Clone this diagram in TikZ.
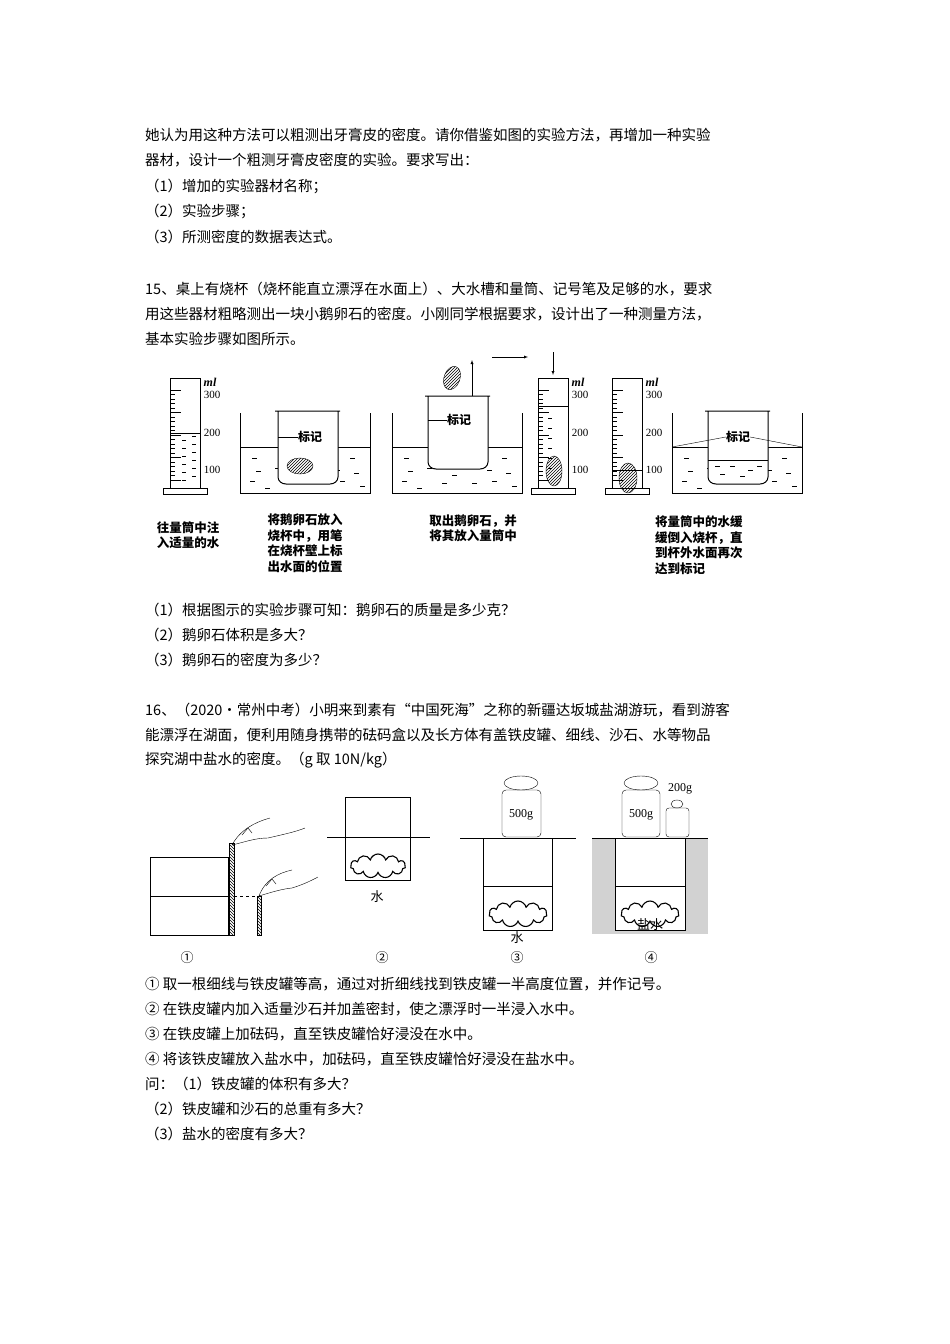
\documentclass[tikz,border=0pt]{standalone}
\usepackage{fontspec}
\setmainfont{Liberation Serif}
\newfontfamily\cjk{Noto Sans CJK SC}
\usetikzlibrary{shapes.symbols,shapes.geometric,patterns}
\tikzset{
  txt/.style={anchor=west,inner sep=0pt,font=\cjk\fontsize{14.5}{16}\selectfont},
  capt/.style={align=left,inner sep=0pt,font=\cjk\bfseries\fontsize{12.5}{15.5}\selectfont},
  scl/.style={inner sep=0pt,font=\fontsize{11}{11}\selectfont},
  stone/.style={draw,ellipse,minimum width=24,minimum height=16,inner sep=0pt,pattern=north east lines},
  rock/.style={draw,cloud,cloud puffs=11,minimum width=58,minimum height=26,inner sep=0pt,line width=1.1pt},
  lbl/.style={inner sep=0pt,font=\cjk\fontsize{13}{13}\selectfont}
}
% graduated cylinder, (#1,#2) top left of tube, #3 water level
\newcommand\tube[3]{
  \begin{scope}[shift={(#1,#2)}]
    \draw[line width=1pt] (0,0) -- (0,110) (30,0) -- (30,110);
    \draw (0,0) -- (30,0);
    \draw[fill=white,line width=1pt] (-7,110) rectangle (37,116);
    \foreach \k in {0,...,20} {\draw (0,12+\k*4.5) -- (5,12+\k*4.5);}
    \foreach \k in {0,...,4} {\draw (0,12+\k*22.5) -- (11,12+\k*22.5);}
    \draw (0,#3) -- (30,#3);
    \node[scl,font=\bfseries\itshape\fontsize{12}{12}\selectfont] at (40,4) {ml};
    \node[scl] at (42,17) {300};
    \node[scl] at (42,55) {200};
    \node[scl] at (42,92) {100};
  \end{scope}}
% water tank with dashes
\newcommand\tank[3]{
  \begin{scope}[shift={(#1,#2)}]
    \draw[line width=1pt] (0,0) -- (0,80) -- (130,80) -- (130,0);
    \draw (0,#3) -- (130,#3);
    \foreach \px/\py in {12/45,90/45,110/45,16/58,35/55,95/57,114/60,10/68,50/70,80/70,100/68,25/75,60/62,120/73}
      {\draw (\px,\py) -- (\px+5,\py);}
  \end{scope}}
% beaker, (#1,#2) top left
\newcommand\beaker[2]{
  \begin{scope}[shift={(#1,#2)}]
    \draw[line width=1pt,fill=white] (-3,0) -- (62,0) (0,0) -- (0,66) to[out=-90,in=180] (8,73) -- (52,73) to[out=0,in=-90] (60,66) -- (60,0);
  \end{scope}}
\begin{document}
\begin{tikzpicture}[x=1pt,y=-1pt]
\useasboundingbox (0,0) rectangle (950,1344);
% text above
\node[txt] (t1) at (145,135) {她认为用这种方法可以粗测出牙膏皮的密度。请你借鉴如图的实验方法，再增加一种实验};
\node[txt] (t2) at (145,160) {器材，设计一个粗测牙膏皮密度的实验。要求写出：};
\node[txt] (t3) at (145,186) {（1）增加的实验器材名称；};
\node[txt] (t4) at (145,211) {（2）实验步骤；};
\node[txt] (t5) at (145,237) {（3）所测密度的数据表达式。};
\node[txt] (t6) at (145,289) {15、桌上有烧杯（烧杯能直立漂浮在水面上）、大水槽和量筒、记号笔及足够的水，要求};
\node[txt] (t7) at (145,314) {用这些器材粗略测出一块小鹅卵石的密度。小刚同学根据要求，设计出了一种测量方法，};
\node[txt] (t8) at (145,339) {基本实验步骤如图所示。};
% figure 15
\tube{170}{378}{55}
\foreach \py in {62,70,78,86,94,102} {\draw (182,378+\py) -- (186,378+\py) (192,374+\py) -- (196,374+\py);}
\tank{240}{413}{34}
\beaker{278}{411}
\node[inner sep=0pt,fill=white,font=\cjk\bfseries\fontsize{12}{12}\selectfont] (m1) at (310,437) {标记};
\draw (278,437) -- (m1.west);
\node[stone,minimum width=26] (s1) at (300,466) {};
\tank{392}{413}{34}
\beaker{428}{396}
\node[inner sep=0pt,fill=white,font=\cjk\bfseries\fontsize{12}{12}\selectfont] (m2) at (459,420) {标记};
\draw (428,420) -- (m2.west);
\node[stone,rotate=70] (s2) at (452,378) {};
\draw[-latex] (472,396) -- (472,360);
\draw[-latex] (492,357) -- (528,357);
\draw[-latex] (553,352) -- (553,375);
\tube{538}{378}{28}
\foreach \py in {40,50,60,70,80,90} {\draw (548,378+\py) -- (552,378+\py);}
\node[stone,minimum width=16,minimum height=30] (s3) at (554,471) {};
\tube{612}{378}{92}
\node[stone,minimum width=18,minimum height=30] (s4) at (628,478) {};
\tank{672}{413}{34}
\beaker{708}{411}
\draw (708,460) -- (768,460);
\foreach \px/\py in {715/466,730/466,748/470,720/474,740/476,757/466} {\draw (\px,\py) -- (\px+5,\py);}
\node[inner sep=0pt,fill=white,font=\cjk\bfseries\fontsize{12}{12}\selectfont] (m4) at (738,437) {标记};
\draw (672,447) -- (m4.west) (m4.east) -- (802,447);
\node[capt] (c1) at (188,535) {往量筒中注\\入适量的水};
\node[capt] (c2) at (305,543) {将鹅卵石放入\\烧杯中，用笔\\在烧杯壁上标\\出水面的位置};
\node[capt] (c3) at (473,528) {取出鹅卵石，并\\将其放入量筒中};
\node[capt,anchor=west] (c4) at (655,545) {将量筒中的水缓\\缓倒入烧杯，直\\到杯外水面再次\\达到标记};
% questions 15
\node[txt] (t9) at (145,610) {（1）根据图示的实验步骤可知：鹅卵石的质量是多少克？};
\node[txt] (t10) at (145,635) {（2）鹅卵石体积是多大？};
\node[txt] (t11) at (145,660) {（3）鹅卵石的密度为多少？};
\node[txt] (t12) at (145,710) {16、（2020•常州中考）小明来到素有“中国死海”之称的新疆达坂城盐湖游玩，看到游客};
\node[txt] (t13) at (145,735) {能漂浮在湖面，便利用随身携带的砝码盒以及长方体有盖铁皮罐、细线、沙石、水等物品};
\node[txt] (t14) at (145,760) {探究湖中盐水的密度。（g 取 10N/kg）};
% figure 16 panel 1
\draw (150,857) rectangle (228,935) (150,896) -- (228,896);
\draw[pattern=north west lines] (229,843) rectangle (234,935);
\draw[pattern=north west lines] (257,896) rectangle (261,935);
\draw[dashed] (234,896) -- (257,896);
\draw (270,818) .. controls (255,822) and (240,830) .. (232,845)
      (232,845) .. controls (245,842) and (255,838) .. (268,838)
      (268,838) .. controls (285,834) and (295,832) .. (305,828);
\draw (242,835) -- (248,828) -- (252,833);
\draw (292,870) .. controls (278,873) and (265,880) .. (259,896)
      (259,896) .. controls (272,892) and (282,889) .. (292,888)
      (292,888) .. controls (305,884) and (312,880) .. (318,877);
\draw (266,886) -- (272,879) -- (276,884);
\node[lbl] (n1) at (187,958) {①};
% panel 2
\draw (345,797) rectangle (410,880);
\draw (327,837) -- (430,837);
\node[rock,minimum width=55,minimum height=24] (r2) at (378,866) {};
\node[lbl] (w2) at (377,897) {水};
\node[lbl] (n2) at (382,958) {②};
% panel 3
\draw (460,838) -- (576,838);
\draw (483,838) rectangle (552,930) (483,886) -- (552,886);
\draw[rounded corners=4] (502,837) rectangle (541,790);
\draw (521,783) ellipse (17 and 7);
\node[inner sep=0pt,font=\fontsize{12}{12}\selectfont] (w500a) at (521,815) {500g};
\node[rock] (r3) at (518,914) {};
\node[lbl] (w3) at (517,938) {水};
\node[lbl] (n3) at (517,958) {③};
% panel 4
\fill[gray!35] (592,838) rectangle (708,934);
\draw[fill=white] (615,838) rectangle (685,930);
\draw (615,886) -- (685,886);
\draw (592,838) -- (708,838);
\draw[rounded corners=4] (622,837) rectangle (660,790);
\draw (641,783) ellipse (17 and 7);
\node[inner sep=0pt,font=\fontsize{12}{12}\selectfont] (w500b) at (641,815) {500g};
\draw[rounded corners=3] (666,837) rectangle (689,808);
\draw (677,804) ellipse (6 and 4);
\node[inner sep=0pt,font=\fontsize{12}{12}\selectfont] (w200) at (680,789) {200g};
\node[rock] (r4) at (650,914) {};
\node[lbl] (w4) at (650,925) {盐水};
\node[lbl] (n4) at (651,958) {④};
% steps 16
\node[txt] (t15) at (145,984) {① 取一根细线与铁皮罐等高，通过对折细线找到铁皮罐一半高度位置，并作记号。};
\node[txt] (t16) at (145,1009) {② 在铁皮罐内加入适量沙石并加盖密封，使之漂浮时一半浸入水中。};
\node[txt] (t17) at (145,1034) {③ 在铁皮罐上加砝码，直至铁皮罐恰好浸没在水中。};
\node[txt] (t18) at (145,1059) {④ 将该铁皮罐放入盐水中，加砝码，直至铁皮罐恰好浸没在盐水中。};
\node[txt] (t19) at (145,1084) {问：（1）铁皮罐的体积有多大？};
\node[txt] (t20) at (145,1109) {（2）铁皮罐和沙石的总重有多大？};
\node[txt] (t21) at (145,1134) {（3）盐水的密度有多大？};
\end{tikzpicture}
\end{document}
